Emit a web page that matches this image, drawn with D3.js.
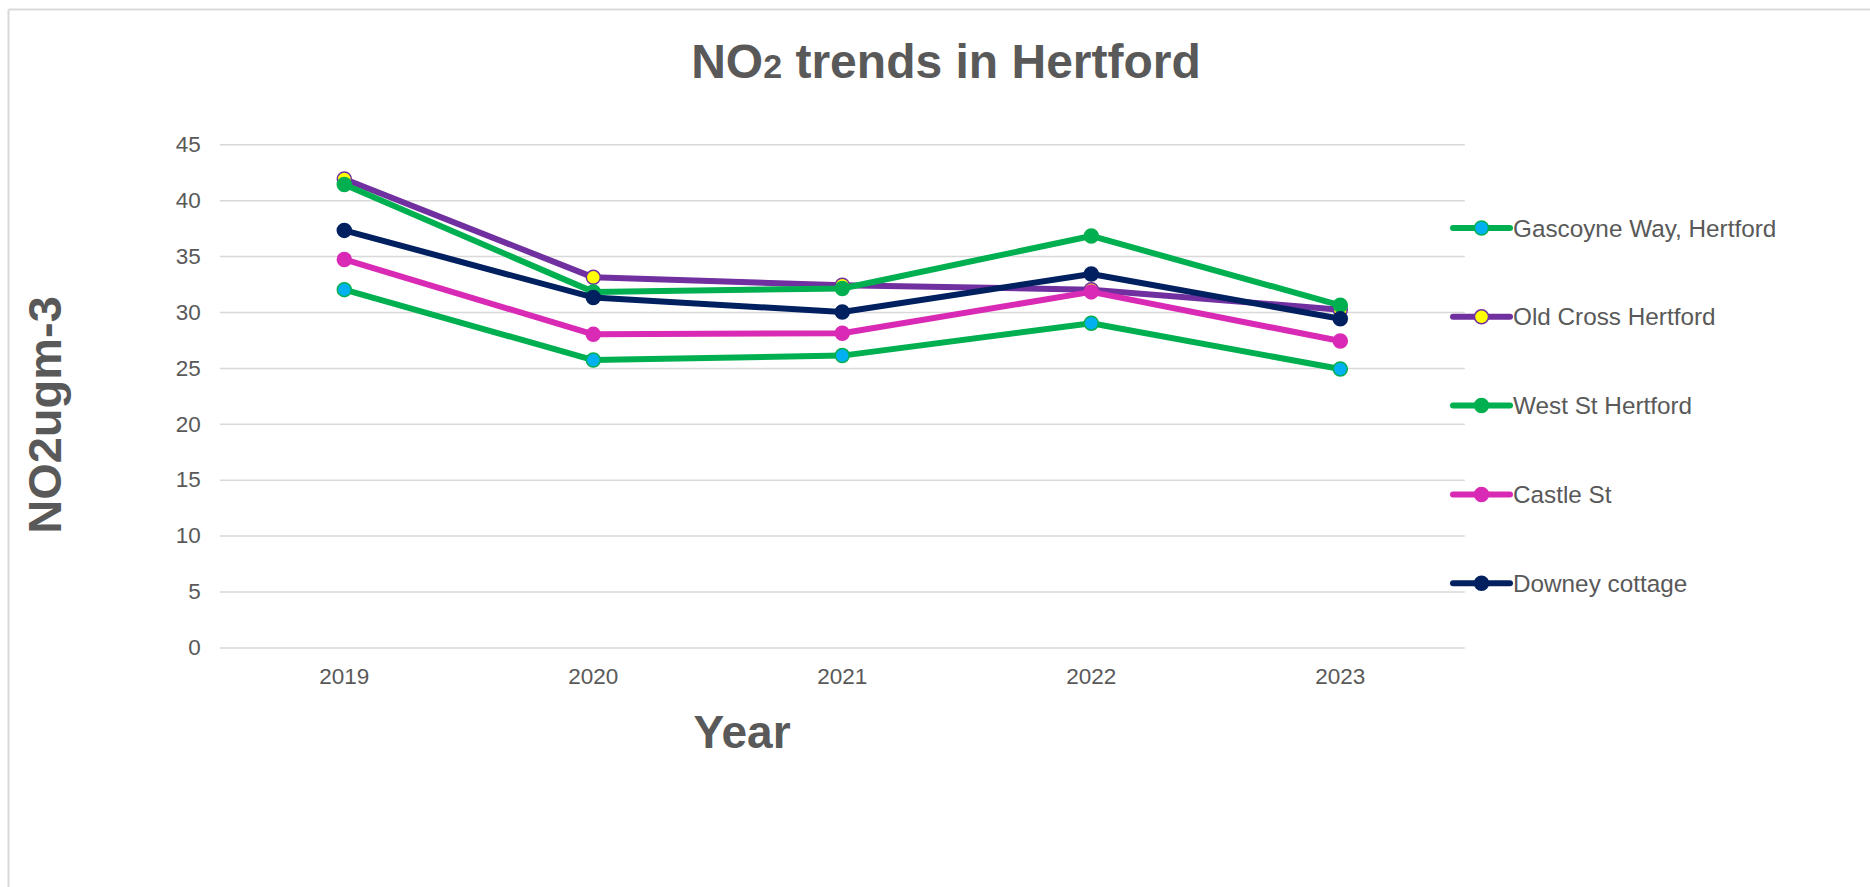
<!DOCTYPE html>
<html>
<head>
<meta charset="utf-8">
<script src="https://cdn.jsdelivr.net/npm/d3@7"></script>
<style>
  html, body { margin: 0; padding: 0; background: #fff; overflow: hidden; }
  svg { display: block; }
  text { font-family: "Liberation Sans", Arial, sans-serif; fill: #595959; }
</style>
</head>
<body>
<svg id="chart" width="1870" height="887"></svg>
<script>
// Annual mean NO2 concentrations (µg/m3) at Hertford monitoring sites
const years = ["2019", "2020", "2021", "2022", "2023"];
const seriesNames = ["Gascoyne Way, Hertford", "Old Cross Hertford", "West St Hertford", "Castle St", "Downey cottage"];
const gascoyneWay = [32.0, 25.7, 26.1, 29.0, 24.9];
const oldCross    = [41.9, 33.1, 32.4, 32.0, 30.2];
const westSt      = [41.4, 31.8, 32.1, 36.8, 30.6];
const castleSt    = [34.7, 28.0, 28.1, 31.8, 27.4];
const downey      = [37.3, 31.3, 30.0, 33.4, 29.4];
const yTicks = [0, 5, 10, 15, 20, 25, 30, 35, 40, 45];

const lineColors   = ["#00B050", "#7030A0", "#00B050", "#D92AB5", "#002060"];
const markerFills  = ["#00B0F0", "#FFFF00", "#00B050", "#D92AB5", "#002060"];
const seriesValues = [gascoyneWay, oldCross, westSt, castleSt, downey];

const series = seriesNames.map((name, i) => ({
  name, values: seriesValues[i], stroke: lineColors[i], fill: markerFills[i]
}));

const svg = d3.select("#chart");

// Chart frame: top and left edges (the rest lies outside the view)
const frame = svg.append("g").attr("stroke", "#D9D9D9").attr("stroke-width", 2);
frame.append("line").attr("x1", 8.5).attr("x2", 1870).attr("y1", 9.5).attr("y2", 9.5);
frame.append("line").attr("x1", 8.5).attr("x2", 8.5).attr("y1", 9.5).attr("y2", 887);

const plot = { left: 219.8, right: 1464.8, top: 144.3, bottom: 647.4 };

const x = d3.scaleBand().domain(years).range([plot.left, plot.right]).padding(0);
const xc = d => x(d) + x.bandwidth() / 2;
const y = d3.scaleLinear().domain([0, 45]).range([plot.bottom, plot.top]);

// Horizontal gridlines and value labels
const yAxis = svg.append("g")
  .attr("transform", `translate(${plot.left},0)`)
  .call(d3.axisLeft(y).tickValues(yTicks).tickSizeInner(-(plot.right - plot.left)).tickSizeOuter(0).tickPadding(19));
yAxis.select(".domain").remove();
yAxis.selectAll(".tick line").attr("stroke", "#D9D9D9").attr("stroke-width", 1.5);
yAxis.selectAll(".tick text").attr("font-size", 22.5).attr("fill", "#595959")
  .style("font-family", '"Liberation Sans", Arial, sans-serif');

// Year labels
const xAxis = svg.append("g")
  .attr("transform", `translate(0,${plot.bottom})`)
  .call(d3.axisBottom(x).tickSize(0).tickPadding(21));
xAxis.select(".domain").remove();
xAxis.selectAll(".tick text").attr("font-size", 22.5).attr("fill", "#595959")
  .style("font-family", '"Liberation Sans", Arial, sans-serif');

// Lines and markers
const line = d3.line().x((d, i) => xc(years[i])).y(d => y(d));
const gSeries = svg.append("g");
series.forEach(s => {
  const g = gSeries.append("g");
  g.append("path")
    .attr("d", line(s.values))
    .attr("fill", "none")
    .attr("stroke", s.stroke)
    .attr("stroke-width", 6)
    .attr("stroke-linejoin", "round")
    .attr("stroke-linecap", "round");
  g.selectAll("circle").data(s.values).join("circle")
    .attr("cx", (d, i) => xc(years[i]))
    .attr("cy", d => y(d))
    .attr("r", 7)
    .attr("fill", s.fill)
    .attr("stroke", s.stroke)
    .attr("stroke-width", 1.5);
});

// Legend
const legend = svg.append("g").attr("transform", "translate(1453,228)");
series.forEach((s, i) => {
  const g = legend.append("g").attr("transform", `translate(0,${i * 88.8})`);
  g.append("line")
    .attr("x1", 0).attr("x2", 57).attr("y1", 0).attr("y2", 0)
    .attr("stroke", s.stroke).attr("stroke-width", 6).attr("stroke-linecap", "round");
  g.append("circle")
    .attr("cx", 28.5).attr("cy", 0).attr("r", 7)
    .attr("fill", s.fill).attr("stroke", s.stroke).attr("stroke-width", 1.5);
  g.append("text")
    .attr("x", 60).attr("y", 0).attr("dy", "0.35em")
    .attr("font-size", 24.3)
    .text(s.name);
});

// Chart title
const title = svg.append("text")
  .attr("x", 946).attr("y", 78)
  .attr("text-anchor", "middle")
  .attr("font-size", 48).attr("font-weight", "bold");
title.append("tspan").text("NO");
title.append("tspan").attr("font-size", 34).text("2");
title.append("tspan").text(" trends in Hertford");

// Axis titles
svg.append("text")
  .attr("x", 742).attr("y", 748)
  .attr("text-anchor", "middle")
  .attr("font-size", 46).attr("font-weight", "bold")
  .text("Year");

svg.append("text")
  .attr("transform", "translate(61,415) rotate(-90)")
  .attr("text-anchor", "middle")
  .attr("font-size", 47).attr("font-weight", "bold")
  .text("NO2ugm-3");
</script>
</body>
</html>
